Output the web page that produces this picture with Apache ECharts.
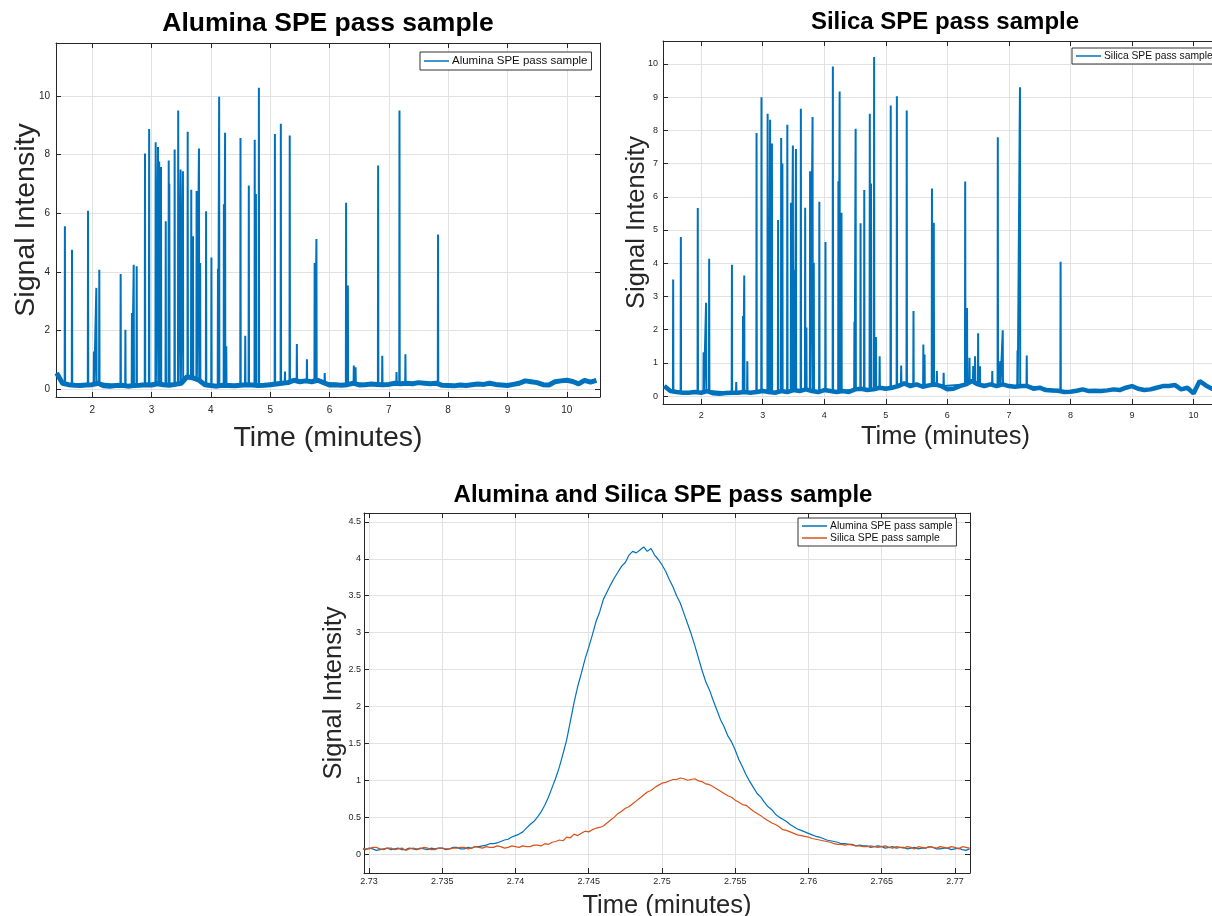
<!DOCTYPE html>
<html>
<head>
<meta charset="utf-8">
<script src="https://cdn.jsdelivr.net/npm/echarts@6/dist/echarts.min.js"></script>
<style>
  html, body { margin: 0; padding: 0; background: #fff; }
  .panel { position: absolute; }
  #alumina { left: 0; top: 0; width: 612px; height: 460px; }
  #silica { left: 612px; top: 0; width: 600px; height: 460px; }
  #overlay { left: 0; top: 460px; width: 1212px; height: 456px; }
</style>
</head>
<body>
<div id="alumina" class="panel"></div>
<div id="silica" class="panel"></div>
<div id="overlay" class="panel"></div>
<script>
// ---- data ----
const aluminaName = 'Alumina SPE pass sample'
const silicaName = 'Silica SPE pass sample'

// baseline of the full runs, one value every 0.1 min from 1.4 min
const baseStart = 1.4
const baseStep = 0.1
const aluminaBase = [
  0.55, 0.2, 0.15, 0.13, 0.12, 0.14, 0.15, 0.2, 0.11, 0.1,
  0.12, 0.13, 0.1, 0.12, 0.13, 0.15, 0.14, 0.18, 0.15, 0.13,
  0.16, 0.2, 0.42, 0.38, 0.3, 0.15, 0.12, 0.1, 0.13, 0.12,
  0.11, 0.13, 0.15, 0.14, 0.12, 0.13, 0.15, 0.17, 0.2, 0.22,
  0.3, 0.25, 0.28, 0.25, 0.3, 0.22, 0.14, 0.15, 0.13, 0.15,
  0.2, 0.14, 0.15, 0.17, 0.16, 0.15, 0.16, 0.2, 0.18, 0.2,
  0.18, 0.22, 0.2, 0.18, 0.2, 0.13, 0.12, 0.11, 0.14, 0.12,
  0.15, 0.17, 0.16, 0.2, 0.16, 0.14, 0.12, 0.16, 0.2, 0.28,
  0.25, 0.22, 0.15, 0.14, 0.25, 0.28, 0.3, 0.26, 0.18, 0.3,
  0.24, 0.3
]
const silicaBase = [
  0.3, 0.15, 0.12, 0.1, 0.1, 0.12, 0.1, 0.15, 0.08, 0.07,
  0.09, 0.1, 0.1, 0.12, 0.1, 0.12, 0.15, 0.12, 0.1, 0.15,
  0.12, 0.18, 0.15, 0.2, 0.15, 0.12, 0.18, 0.15, 0.12, 0.15,
  0.12, 0.2, 0.22, 0.18, 0.2, 0.25, 0.22, 0.25, 0.3, 0.38,
  0.3, 0.35, 0.28, 0.32, 0.35, 0.3, 0.2, 0.22, 0.3, 0.35,
  0.45, 0.35, 0.3, 0.35, 0.3, 0.35, 0.3, 0.28, 0.3, 0.3,
  0.22, 0.25, 0.18, 0.17, 0.16, 0.12, 0.13, 0.16, 0.2, 0.15,
  0.16, 0.15, 0.17, 0.2, 0.18, 0.25, 0.3, 0.22, 0.18, 0.2,
  0.25, 0.3, 0.3, 0.33, 0.2, 0.25, 0.08, 0.45, 0.32, 0.22,
  0.2, 0.25
]

// peaks: [time (min), height]
const aluminaPeaks = [
  [1.54, 5.55], [1.66, 4.75], [1.93, 6.08], [2.03, 1.28], [2.07, 3.45], [2.12, 4.07],
  [2.48, 3.92], [2.56, 2.02], [2.67, 2.59], [2.70, 4.24], [2.75, 4.19], [2.89, 8.03],
  [2.96, 8.87], [3.07, 8.42], [3.11, 8.25], [3.13, 7.76], [3.16, 7.57], [3.24, 5.72],
  [3.29, 7.79], [3.30, 7.0], [3.39, 8.17], [3.45, 9.5], [3.49, 7.49], [3.53, 7.43],
  [3.61, 8.77], [3.67, 6.8], [3.70, 5.21], [3.76, 6.75], [3.80, 8.2], [3.82, 4.3],
  [3.92, 6.06], [4.01, 4.49], [4.12, 4.1], [4.14, 9.97], [4.22, 6.3], [4.24, 8.74],
  [4.26, 1.46], [4.50, 8.56], [4.58, 1.82], [4.64, 6.94], [4.74, 8.5], [4.76, 6.65],
  [4.81, 10.27], [5.08, 8.7], [5.18, 9.05], [5.25, 0.6], [5.33, 8.65], [5.45, 1.54],
  [5.62, 1.02], [5.75, 4.3], [5.78, 5.12], [5.92, 0.55], [6.28, 6.35], [6.31, 3.53],
  [6.41, 0.8], [6.44, 0.74], [6.82, 7.62], [6.89, 1.14], [7.13, 0.58], [7.18, 9.5],
  [7.28, 1.19], [7.83, 5.27]
]
const silicaPeaks = [
  [1.545, 3.51], [1.67, 4.79], [1.945, 5.66], [2.04, 1.32], [2.08, 2.81], [2.13, 4.13],
  [2.50, 3.95], [2.57, 0.42], [2.68, 2.41], [2.70, 3.63], [2.75, 1.05], [2.90, 7.92],
  [2.98, 9.0], [3.08, 8.5], [3.10, 3.6], [3.12, 8.32], [3.15, 7.6], [3.25, 5.3],
  [3.30, 7.77], [3.32, 7.0], [3.40, 8.17], [3.46, 5.82], [3.49, 7.54], [3.52, 3.8],
  [3.54, 7.44], [3.62, 8.65], [3.69, 5.67], [3.71, 2.06], [3.77, 6.77], [3.81, 8.4],
  [3.83, 4.01], [3.92, 5.85], [4.02, 4.64], [4.14, 9.92], [4.23, 6.47], [4.25, 9.17],
  [4.28, 5.52], [4.49, 2.24], [4.51, 8.05], [4.59, 5.2], [4.65, 6.2], [4.74, 8.5],
  [4.76, 6.4], [4.81, 10.21], [4.84, 1.78], [4.90, 1.2], [5.08, 8.75], [5.18, 9.03],
  [5.25, 0.92], [5.34, 8.6], [5.45, 2.56], [5.61, 1.55], [5.63, 1.25], [5.75, 6.25],
  [5.78, 5.22], [5.83, 0.75], [5.94, 0.7], [6.29, 6.46], [6.32, 2.65], [6.36, 1.15],
  [6.42, 0.9], [6.45, 1.2], [6.50, 1.89], [6.53, 0.9], [6.73, 0.75], [6.82, 7.79],
  [6.86, 1.05], [6.90, 1.98], [7.14, 1.37], [7.18, 9.3], [7.29, 1.22], [7.84, 4.04]
]

// close-up of the 2.73 - 2.77 min peak, one value every 0.00025 min from 2.7295
// (each row covers 0.002 min)
const zoomStart = 2.7295
const zoomStep = 0.00025
const zoomAlumina = [
  0.07, 0.06, 0.08, 0.07, 0.05, 0.06, 0.07, 0.08,
  0.06, 0.07, 0.08, 0.06, 0.06, 0.08, 0.07, 0.06,
  0.08, 0.07, 0.06, 0.08, 0.07, 0.08, 0.08, 0.06,
  0.07, 0.09, 0.09, 0.07, 0.07, 0.09, 0.08, 0.10,
  0.10, 0.11, 0.12, 0.14, 0.14, 0.15, 0.17, 0.19,
  0.20, 0.23, 0.25, 0.27, 0.30, 0.35, 0.40, 0.44,
  0.50, 0.57, 0.66, 0.77, 0.90, 1.03, 1.18, 1.36,
  1.55, 1.80, 2.05, 2.27, 2.45, 2.64, 2.80, 2.97,
  3.15, 3.28, 3.45, 3.55, 3.65, 3.74, 3.82, 3.90,
  3.95, 4.05, 4.10, 4.08, 4.12, 4.16, 4.10, 4.14,
  4.05, 3.99, 3.92, 3.83, 3.72, 3.62, 3.50, 3.40,
  3.26, 3.12, 2.98, 2.82, 2.65, 2.48, 2.33, 2.22,
  2.08, 1.95, 1.82, 1.72, 1.60, 1.52, 1.41, 1.28,
  1.18, 1.07, 0.98, 0.90, 0.82, 0.77, 0.70, 0.64,
  0.60, 0.54, 0.50, 0.47, 0.44, 0.40, 0.37, 0.34,
  0.32, 0.30, 0.28, 0.26, 0.24, 0.23, 0.21, 0.19,
  0.18, 0.17, 0.16, 0.14, 0.14, 0.13, 0.13, 0.11,
  0.12, 0.11, 0.11, 0.09, 0.10, 0.11, 0.10, 0.08,
  0.09, 0.10, 0.08, 0.09, 0.09, 0.07, 0.08, 0.09,
  0.07, 0.08, 0.08, 0.10, 0.09, 0.07, 0.07, 0.08,
  0.08, 0.06, 0.07, 0.08, 0.06, 0.05, 0.07
]
const zoomSilica = [
  0.08, 0.07, 0.07, 0.09, 0.09, 0.07, 0.06, 0.08,
  0.08, 0.06, 0.07, 0.08, 0.05, 0.07, 0.08, 0.07,
  0.07, 0.09, 0.08, 0.06, 0.06, 0.08, 0.08, 0.07,
  0.07, 0.08, 0.08, 0.09, 0.09, 0.07, 0.08, 0.10,
  0.09, 0.08, 0.10, 0.09, 0.09, 0.11, 0.10, 0.08,
  0.09, 0.11, 0.10, 0.09, 0.11, 0.10, 0.10, 0.12,
  0.12, 0.11, 0.14, 0.13, 0.16, 0.17, 0.19, 0.18,
  0.23, 0.22, 0.27, 0.25, 0.28, 0.31, 0.30, 0.33,
  0.35, 0.36, 0.38, 0.42, 0.46, 0.50, 0.55, 0.58,
  0.62, 0.64, 0.68, 0.72, 0.76, 0.80, 0.84, 0.86,
  0.90, 0.93, 0.96, 0.97, 0.99, 1.01, 1.01, 1.03,
  1.02, 1.00, 1.01, 1.02, 0.99, 0.98, 0.95, 0.94,
  0.91, 0.88, 0.85, 0.82, 0.79, 0.77, 0.73, 0.70,
  0.67, 0.66, 0.62, 0.58, 0.55, 0.52, 0.48, 0.45,
  0.42, 0.40, 0.37, 0.33, 0.32, 0.30, 0.28, 0.26,
  0.25, 0.24, 0.23, 0.21, 0.20, 0.19, 0.18, 0.17,
  0.16, 0.14, 0.13, 0.13, 0.12, 0.13, 0.12, 0.11,
  0.11, 0.10, 0.10, 0.11, 0.10, 0.09, 0.10, 0.11,
  0.09, 0.08, 0.10, 0.09, 0.08, 0.10, 0.09, 0.07,
  0.10, 0.09, 0.08, 0.10, 0.09, 0.08, 0.10, 0.09,
  0.08, 0.10, 0.09, 0.07, 0.10, 0.09, 0.08
]

// ---- helpers ----
const FONT = '"Liberation Sans", Arial, Helvetica, sans-serif'
const BLUE = '#0072BD'
const ORANGE = '#D95319'
const INK = '#262626'

function stepSeries (start, step, values) {
  return values.map((v, i) => [+(start + i * step).toFixed(6), v])
}

// each peak becomes a narrow spike standing on the nearest baseline value
function spikeSeries (peaks, base) {
  const pts = []
  peaks.forEach(function (p) {
    let idx = Math.round((p[0] - baseStart) / baseStep)
    idx = Math.max(0, Math.min(base.length - 1, idx))
    const foot = base[idx]
    pts.push([p[0] - 0.004, foot], [p[0], p[1]], [p[0] + 0.004, foot])
  })
  return pts
}

function valueAxis (range, step) {
  return {
    type: 'value',
    min: range[0],
    max: range[1],
    minInterval: step,
    maxInterval: step,
    splitNumber: Math.round((range[1] - range[0]) / step)
  }
}

function buildAxes (c) {
  const line = { onZero: false, lineStyle: { color: INK, width: 1 } }
  const tick = { inside: true, length: 5, lineStyle: { color: INK, width: 1 } }
  const split = { show: true, lineStyle: { color: '#e2e2e2', width: 1 } }
  const label = {
    fontSize: c.labelSize,
    color: INK,
    fontFamily: FONT,
    showMinLabel: false,
    showMaxLabel: false
  }
  const nameStyle = { fontSize: c.nameSize, color: INK, fontFamily: FONT }
  return {
    xAxis: [
      Object.assign(valueAxis(c.x, c.xStep), {
        position: 'bottom',
        axisLine: line,
        axisTick: tick,
        axisLabel: Object.assign({ margin: c.xMargin }, label),
        splitLine: split,
        name: 'Time (minutes)',
        nameLocation: 'middle',
        nameGap: c.xGap,
        nameMoveOverlap: false,
        nameTextStyle: nameStyle
      }),
      Object.assign(valueAxis(c.x, c.xStep), {
        position: 'top',
        axisLine: line,
        axisTick: tick,
        axisLabel: { show: false },
        splitLine: { show: false }
      })
    ],
    yAxis: [
      Object.assign(valueAxis(c.y, c.yStep), {
        position: 'left',
        axisLine: line,
        axisTick: tick,
        axisLabel: Object.assign({ margin: c.yMargin }, label),
        splitLine: split,
        name: 'Signal Intensity',
        nameLocation: 'middle',
        nameGap: c.yGap,
        nameMoveOverlap: false,
        nameTextStyle: nameStyle
      }),
      Object.assign(valueAxis(c.y, c.yStep), {
        position: 'right',
        axisLine: line,
        axisTick: tick,
        axisLabel: { show: false },
        splitLine: { show: false }
      })
    ]
  }
}

function lineSeries (name, data, color, width) {
  return {
    name: name,
    type: 'line',
    data: data,
    symbol: 'none',
    showSymbol: false,
    sampling: null,
    silent: true,
    animation: false,
    lineStyle: { color: color, width: width },
    itemStyle: { color: color }
  }
}

function title (text, x, y, size) {
  return {
    text: text,
    left: x,
    top: y,
    textAlign: 'center',
    padding: 0,
    textStyle: { fontSize: size, fontWeight: 'bold', color: '#000', fontFamily: FONT }
  }
}

function legend (names, x, y, size) {
  return {
    data: names,
    orient: 'vertical',
    left: x,
    top: y,
    padding: [3, 4],
    itemGap: 2,
    itemWidth: 25,
    itemHeight: 1.5,
    icon: 'rect',
    backgroundColor: '#fff',
    borderColor: '#333',
    borderWidth: 1,
    borderRadius: 0,
    selectedMode: false,
    textStyle: { fontSize: size, color: '#111', fontFamily: FONT, padding: [0, 0, 0, -2] }
  }
}

// ---- top left: alumina ----
const chartA = echarts.init(document.getElementById('alumina'))
const axesA = buildAxes({
  x: [1.39, 10.56], xStep: 1, y: [-0.27, 11.8], yStep: 2,
  labelSize: 10, nameSize: 28.5, xGap: 27, yGap: 15, xMargin: 8, yMargin: 6
})
chartA.setOption({
  animation: false,
  title: title(aluminaName, 328, 10, 26.5),
  legend: legend([aluminaName], 420, 52, 11.5),
  grid: { left: 56, top: 43, width: 544, height: 354, outerBoundsMode: 'none' },
  xAxis: axesA.xAxis,
  yAxis: axesA.yAxis,
  series: [
    lineSeries(aluminaName, spikeSeries(aluminaPeaks, aluminaBase), BLUE, 2),
    lineSeries(aluminaName, stepSeries(baseStart, baseStep, aluminaBase), BLUE, 5)
  ]
})

// ---- top right: silica (axes run past the picture edge) ----
const chartB = echarts.init(document.getElementById('silica'))
const axesB = buildAxes({
  x: [1.38, 10.56], xStep: 1, y: [-0.24, 10.69], yStep: 1,
  labelSize: 9, nameSize: 25.5, xGap: 20, yGap: 13, xMargin: 7, yMargin: 5
})
chartB.setOption({
  animation: false,
  title: title(silicaName, 333, 10, 24),
  legend: legend([silicaName], 460, 48, 10.3),
  grid: { left: 51, top: 41, width: 565, height: 363, outerBoundsMode: 'none' },
  xAxis: axesB.xAxis,
  yAxis: axesB.yAxis,
  series: [
    lineSeries(silicaName, spikeSeries(silicaPeaks, silicaBase), BLUE, 2),
    lineSeries(silicaName, stepSeries(baseStart, baseStep, silicaBase), BLUE, 4.5)
  ]
})

// ---- bottom: overlay close-up ----
const chartC = echarts.init(document.getElementById('overlay'))
const axesC = buildAxes({
  x: [2.72966, 2.77103], xStep: 0.005, y: [-0.257, 4.62], yStep: 0.5,
  labelSize: 9, nameSize: 25.5, xGap: 20, yGap: 17, xMargin: 4, yMargin: 3
})
chartC.setOption({
  animation: false,
  title: title('Alumina and Silica SPE pass sample', 663, 23, 24),
  legend: legend([aluminaName, silicaName], 798, 58, 10.4),
  grid: { left: 364, top: 53, width: 606, height: 360, outerBoundsMode: 'none' },
  xAxis: axesC.xAxis,
  yAxis: axesC.yAxis,
  series: [
    lineSeries(aluminaName, stepSeries(zoomStart, zoomStep, zoomAlumina), BLUE, 1.2),
    lineSeries(silicaName, stepSeries(zoomStart, zoomStep, zoomSilica), ORANGE, 1.2)
  ]
})
</script>
</body>
</html>
